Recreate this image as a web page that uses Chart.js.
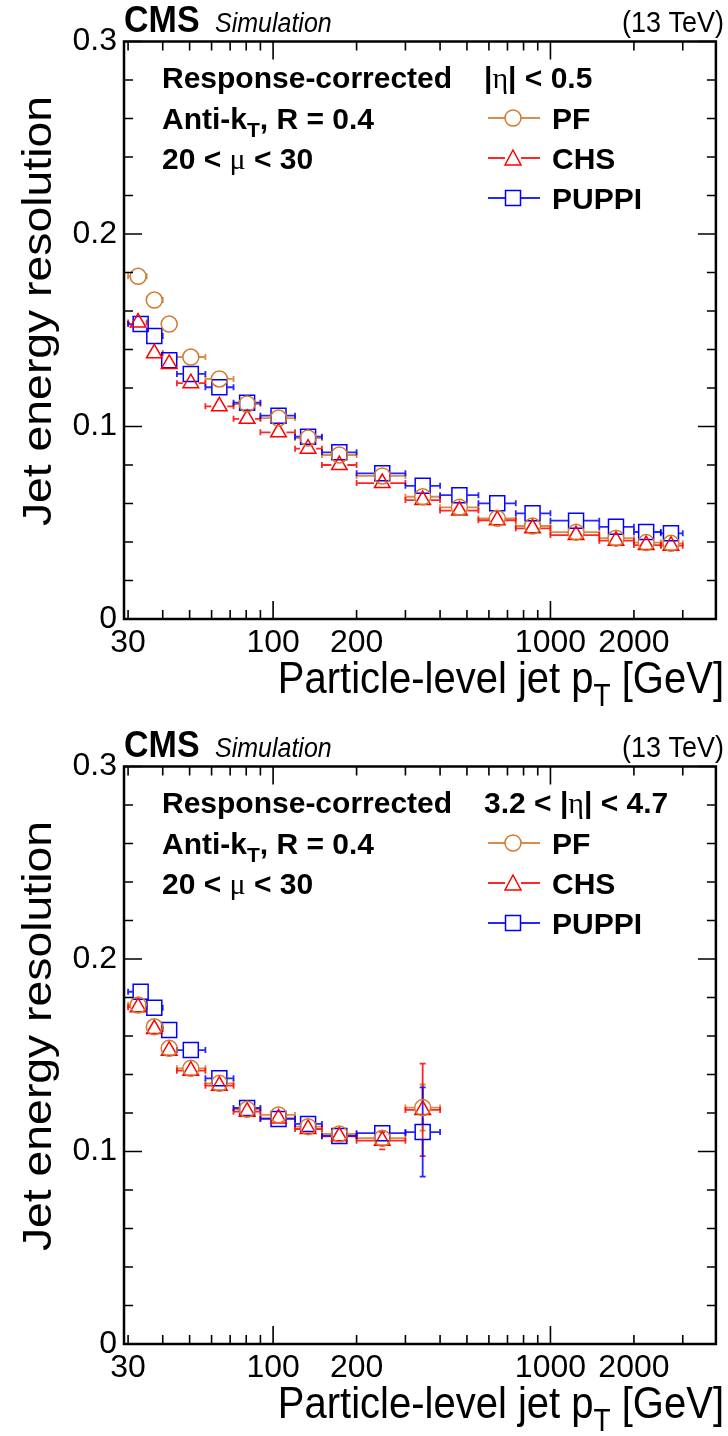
<!DOCTYPE html>
<html>
<head>
<meta charset="utf-8">
<script src="https://cdn.jsdelivr.net/npm/chart.js@4.4.0/dist/chart.umd.min.js"></script>
<style>
html, body { margin: 0; padding: 0; background: #fff; overflow: hidden; }
canvas { display: block; }
</style>
</head>
<body>
<canvas id="chartTop" width="728" height="725"></canvas>
<canvas id="chartBottom" width="728" height="711"></canvas>
<script>
// Jet energy resolution vs particle-level jet pT (CMS Simulation, 13 TeV)

// pT bins (GeV) and mean pT per bin
const binLow  = [30, 35, 40, 45, 57, 72, 90, 120, 150, 200, 300, 400, 550, 750, 1000, 1500, 2000, 2500];
const binHigh = [35, 40, 45, 57, 72, 90, 120, 150, 200, 300, 400, 550, 750, 1000, 1500, 2000, 2500, 3000];
const ptMean      = [32.6, 37.3, 42.2, 50.5, 64.0, 80.6, 104.6, 133.7, 173.3, 247.5, 346.2, 469.6, 643, 862, 1237, 1723, 2214, 2720];
const ptMeanPuppi = [33.3, 37.3, 42.2, 50.5, 64.0, 80.6, 104.6, 133.7, 173.3, 247.5, 346.2, 469.6, 643, 862, 1237, 1723, 2214, 2720];

// |eta| < 0.5
const pfCentral    = [0.178, 0.1657, 0.1532, 0.1361, 0.1247, 0.1117, 0.1044, 0.0940, 0.0852, 0.0743, 0.0635, 0.0580, 0.0523, 0.0483, 0.0451, 0.0420, 0.0397, 0.0393];
const chsCentral   = [0.154, 0.1380, 0.1325, 0.1225, 0.1105, 0.1040, 0.0970, 0.0885, 0.0800, 0.0706, 0.0618, 0.0563, 0.0513, 0.0471, 0.0436, 0.0407, 0.0384, 0.0381];
const puppiCentral = [0.1532, 0.1470, 0.1344, 0.1273, 0.1204, 0.1124, 0.1056, 0.0947, 0.0866, 0.0757, 0.0692, 0.0643, 0.0601, 0.0549, 0.0511, 0.0479, 0.0452, 0.0445];
const errCentral   = [0.001, 0.001, 0.001, 0.001, 0.001, 0.001, 0.001, 0.001, 0.001, 0.001, 0.001, 0.001, 0.001, 0.001, 0.001, 0.001, 0.001, 0.001];

// 3.2 < |eta| < 4.7
const pfForward    = [0.1761, 0.1648, 0.1536, 0.1432, 0.1354, 0.1219, 0.1190, 0.1129, 0.1091, 0.1069, 0.1228];
const chsForward   = [0.1750, 0.1636, 0.1524, 0.1420, 0.1342, 0.1207, 0.1172, 0.1117, 0.1079, 0.1056, 0.1216];
const puppiForward = [0.1830, 0.1747, 0.1631, 0.1527, 0.1380, 0.1226, 0.1169, 0.1143, 0.1081, 0.1095, 0.1101];
const pfErrForward    = [0.001, 0.001, 0.001, 0.001, 0.001, 0.001, 0.001, 0.001, 0.002, 0.004, 0.012];
const chsErrForward   = [0.001, 0.001, 0.001, 0.001, 0.001, 0.001, 0.001, 0.001, 0.002, 0.0045, 0.024];
const puppiErrForward = [0.001, 0.001, 0.001, 0.001, 0.001, 0.001, 0.001, 0.001, 0.002, 0.004, 0.0232];

// axis ticks
const xLabelTicks = [30, 100, 200, 1000, 2000];
const xMajorTicks = [100, 1000];
const xMinorTicks = [30, 40, 50, 60, 70, 80, 90, 200, 300, 400, 500, 600, 700, 800, 900, 2000, 3000];
const yMajorTicks = [0, 0.1, 0.2, 0.3];
const yMinorTicks = [0.02, 0.04, 0.06, 0.08, 0.12, 0.14, 0.16, 0.18, 0.22, 0.24, 0.26, 0.28];

const colores = {
    pf: '#d4782c',
    chs: '#ff0000',
    puppi: '#0000ff'
};

const SANS = "'Liberation Sans', Arial, Helvetica, sans-serif";
const SERIF = "'Liberation Serif', 'DejaVu Serif', serif";

// draw text made of several runs (subscripts, greek letters); sy stretches glyph height
function richText(ctx, x, y, parts, align, sy) {
    let w = 0;
    parts.forEach(p => { ctx.font = p.font; p.w = ctx.measureText(p.text).width; w += p.w; });
    let cx = align === 'right' ? x - w : x;
    ctx.save();
    ctx.translate(0, y);
    ctx.scale(1, sy || 1);
    ctx.textAlign = 'left';
    ctx.textBaseline = 'alphabetic';
    parts.forEach(p => {
        ctx.font = p.font;
        ctx.fillStyle = '#000';
        ctx.fillText(p.text, cx, (p.dy || 0));
        cx += p.w;
    });
    ctx.restore();
}

function drawMarker(ctx, style, x, y, color) {
    ctx.save();
    ctx.strokeStyle = color;
    ctx.lineWidth = 1.5;
    ctx.beginPath();
    if (style === 'circle') {
        ctx.arc(x, y, 8, 0, Math.PI * 2);
    } else if (style === 'triangle') {
        ctx.moveTo(x, y - 8);
        ctx.lineTo(x + 8, y + 7);
        ctx.lineTo(x - 8, y + 7);
        ctx.closePath();
    } else {
        ctx.rect(x - 7.5, y - 7.5, 15, 15);
    }
    ctx.stroke();
    ctx.restore();
}

// horizontal (bin width) and vertical error bars
const errorBarPlugin = {
    id: 'errorBars',
    beforeDatasetsDraw(chart) {
        const ctx = chart.ctx;
        const xs = chart.scales.x, ys = chart.scales.y;
        const gap = 8, cap = 3;
        chart.data.datasets.forEach(ds => {
            ctx.save();
            ctx.strokeStyle = ds.borderColor;
            ctx.globalAlpha = 0.85;
            ctx.lineWidth = 1.8;
            ds.data.forEach((pt, i) => {
                const px = xs.getPixelForValue(pt.x);
                const py = ys.getPixelForValue(pt.y);
                const xl = xs.getPixelForValue(ds.xLow[i]);
                const xh = xs.getPixelForValue(ds.xHigh[i]);
                ctx.beginPath();
                if (px - xl > gap) {
                    ctx.moveTo(xl, py); ctx.lineTo(px - gap, py);
                    ctx.moveTo(xl, py - cap); ctx.lineTo(xl, py + cap);
                }
                if (xh - px > gap) {
                    ctx.moveTo(px + gap, py); ctx.lineTo(xh, py);
                    ctx.moveTo(xh, py - cap); ctx.lineTo(xh, py + cap);
                }
                const yt = ys.getPixelForValue(pt.y + ds.yErr[i]);
                const yb = ys.getPixelForValue(pt.y - ds.yErr[i]);
                if (py - yt > gap) {
                    ctx.moveTo(px, py - gap); ctx.lineTo(px, yt);
                    ctx.moveTo(px - cap, yt); ctx.lineTo(px + cap, yt);
                    ctx.moveTo(px, py + gap); ctx.lineTo(px, yb);
                    ctx.moveTo(px - cap, yb); ctx.lineTo(px + cap, yb);
                }
                ctx.stroke();
            });
            ctx.restore();
        });
    }
};

// frame, inner ticks, titles, header, annotation and legend
const decorPlugin = {
    id: 'decor',
    afterDraw(chart, args, opts) {
        const ctx = chart.ctx;
        const a = chart.chartArea;
        const xs = chart.scales.x, ys = chart.scales.y;
        ctx.save();
        ctx.strokeStyle = '#000';
        ctx.lineWidth = 1.6;
        ctx.beginPath();
        const yTick = (v, len) => {
            const p = ys.getPixelForValue(v);
            ctx.moveTo(a.left, p); ctx.lineTo(a.left + len, p);
            ctx.moveTo(a.right, p); ctx.lineTo(a.right - len, p);
        };
        const xTick = (v, len) => {
            const p = xs.getPixelForValue(v);
            ctx.moveTo(p, a.bottom); ctx.lineTo(p, a.bottom - len);
            ctx.moveTo(p, a.top); ctx.lineTo(p, a.top + len);
        };
        yMajorTicks.forEach(v => yTick(v, 18));
        yMinorTicks.forEach(v => yTick(v, 9));
        xMajorTicks.forEach(v => xTick(v, 18));
        xMinorTicks.forEach(v => xTick(v, 9));
        ctx.stroke();
        ctx.lineWidth = 2.5;
        ctx.strokeRect(a.left, a.top, a.right - a.left, a.bottom - a.top);

        // header
        richText(ctx, 124, 32, [{ text: 'CMS', font: 'bold 34px ' + SANS }], 'left', 1.1);
        richText(ctx, 215, 32, [{ text: 'Simulation', font: 'italic 25px ' + SANS }], 'left', 1.1);
        richText(ctx, 724, 32, [{ text: '(13 TeV)', font: '27px ' + SANS }], 'right', 1.1);

        // axis titles
        richText(ctx, 724, 693, [
            { text: 'Particle-level jet p', font: '40px ' + SANS },
            { text: 'T', font: '28px ' + SANS, dy: 12 },
            { text: ' [GeV]', font: '40px ' + SANS }
        ], 'right', 1.12);
        ctx.save();
        ctx.translate(51, 96);
        ctx.rotate(-Math.PI / 2);
        ctx.scale(1.13, 1);
        richText(ctx, 0, 0, [{ text: 'Jet energy resolution', font: '41px ' + SANS }], 'right');
        ctx.restore();

        // annotation
        const B = 'bold 30px ' + SANS;
        richText(ctx, 162, 88, [{ text: 'Response-corrected', font: B }]);
        richText(ctx, 162, 129, [
            { text: 'Anti-k', font: B },
            { text: 'T', font: 'bold 21px ' + SANS, dy: 8 },
            { text: ', R = 0.4', font: B }
        ]);
        richText(ctx, 162, 169, [
            { text: '20 < ', font: B },
            { text: 'μ', font: '30px ' + SERIF },
            { text: ' < 30', font: B }
        ]);
        richText(ctx, 484, 88, opts.etaParts.map(p => ({ text: p.text, font: p.greek ? '30px ' + SERIF : B })));

        // legend
        const legend = [
            { label: 'PF', style: 'circle', color: colores.pf, y: 118 },
            { label: 'CHS', style: 'triangle', color: colores.chs, y: 158 },
            { label: 'PUPPI', style: 'rect', color: colores.puppi, y: 198 }
        ];
        legend.forEach(item => {
            ctx.save();
            ctx.strokeStyle = item.color;
            ctx.globalAlpha = 0.85;
            ctx.lineWidth = 1.8;
            ctx.beginPath();
            ctx.moveTo(488, item.y); ctx.lineTo(505, item.y);
            ctx.moveTo(521, item.y); ctx.lineTo(540, item.y);
            ctx.stroke();
            ctx.restore();
            drawMarker(ctx, item.style, 513, item.y, item.color);
            richText(ctx, 552, item.y + 11, [{ text: item.label, font: B }]);
        });
        ctx.restore();
    }
};

function makeSeries(label, xs, ys, errs, style, color, radius) {
    return {
        label: label,
        data: ys.map((y, i) => ({ x: xs[i], y: y })),
        xLow: binLow.slice(0, ys.length),
        xHigh: binHigh.slice(0, ys.length),
        yErr: errs,
        showLine: false,
        pointStyle: style,
        pointRadius: radius,
        pointBorderWidth: 1.5,
        borderColor: color,
        backgroundColor: 'rgba(0,0,0,0)',
        pointBackgroundColor: 'rgba(0,0,0,0)'
    };
}

function crearPainel(id, etaParts, pf, chs, puppi, errPf, errChs, errPuppi, padBottom) {
    const ctx = document.getElementById(id).getContext('2d');
    return new Chart(ctx, {
        type: 'scatter',
        data: {
            datasets: [
                makeSeries('PF', ptMean, pf, errPf, 'circle', colores.pf, 8),
                makeSeries('CHS', ptMean, chs, errChs, 'triangle', colores.chs, 9),
                makeSeries('PUPPI', ptMeanPuppi, puppi, errPuppi, 'rect', colores.puppi, 10.6)
            ]
        },
        options: {
            responsive: false,
            animation: false,
            devicePixelRatio: 1,
            layout: { padding: { top: 41.5, right: 3, left: 0, bottom: padBottom } },
            plugins: {
                legend: { display: false },
                tooltip: { enabled: false },
                decor: { etaParts: etaParts }
            },
            scales: {
                x: {
                    type: 'logarithmic',
                    min: 29,
                    max: 3950,
                    grid: { display: false, drawTicks: false },
                    border: { display: false },
                    afterBuildTicks: (scale) => { scale.ticks = xLabelTicks.map(v => ({ value: v })); },
                    afterFit: (scale) => { scale.height = 92; },
                    ticks: {
                        autoSkip: false,
                        maxRotation: 0,
                        padding: 5,
                        color: '#000',
                        font: { family: SANS, size: 32 },
                        callback: (v) => String(v)
                    }
                },
                y: {
                    min: 0,
                    max: 0.3,
                    grid: { display: false, drawTicks: false },
                    border: { display: false },
                    afterFit: (scale) => { scale.width = 124; },
                    ticks: {
                        stepSize: 0.1,
                        padding: 7,
                        color: '#000',
                        font: { family: SANS, size: 32 },
                        callback: (v) => v === 0 ? '0' : v.toFixed(1)
                    }
                }
            }
        },
        plugins: [errorBarPlugin, decorPlugin]
    });
}

crearPainel('chartTop',
    [{ text: '|' }, { text: 'η', greek: true }, { text: '| < 0.5' }],
    pfCentral, chsCentral, puppiCentral, errCentral, errCentral, errCentral, 14);

crearPainel('chartBottom',
    [{ text: '3.2 < |' }, { text: 'η', greek: true }, { text: '| < 4.7' }],
    pfForward, chsForward, puppiForward, pfErrForward, chsErrForward, puppiErrForward, 0);
</script>
</body>
</html>
